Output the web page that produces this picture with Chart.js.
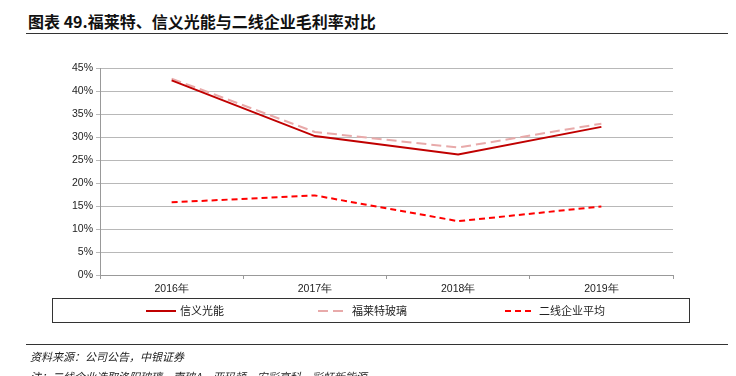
<!DOCTYPE html>
<html><head><meta charset="utf-8">
<script src="https://cdn.jsdelivr.net/npm/chart.js@4/dist/chart.umd.min.js"></script>
<style>
html,body{margin:0;padding:0;background:#fff;width:736px;height:376px;overflow:hidden;position:relative;}
#c{position:absolute;left:0;top:0;}
.t{position:absolute;left:28px;top:9px;font:bold 16px "Noto Sans CJK SC";color:#111;white-space:nowrap;}
.hl{position:absolute;left:26px;width:702px;height:1px;background:#333;}
.src{position:absolute;left:30px;font:italic 11px "Noto Sans CJK SC";color:#222;white-space:nowrap;}
</style></head>
<body>
<div class="t">图表 49.福莱特、信义光能与二线企业毛利率对比</div>
<div class="hl" style="top:33px"></div>
<canvas id="c" width="736" height="376"></canvas>
<div class="hl" style="top:344px"></div>
<div class="src" style="top:348px">资料来源：公司公告，中银证券</div>
<div class="src" style="top:368px">注：二线企业选取洛阳玻璃、南玻A、亚玛顿、安彩高科、彩虹新能源</div>
<script>
const categories = ['2016年','2017年','2018年','2019年'];
const xinyi = [42.3, 30.2, 26.2, 32.2];
const flat = [42.7, 31.1, 27.7, 32.9];
const secondTier = [15.8, 17.3, 11.7, 14.9];
const seriesNames = ['信义光能','福莱特玻璃','二线企业平均'];

const legendBox = {
  id:'legendBox',
  afterDraw(chart){
    const ctx = chart.ctx;
    ctx.save();
    ctx.strokeStyle='#333'; ctx.lineWidth=1; ctx.setLineDash([]);
    ctx.strokeRect(52.5,298.5,637,24);
    const xs=[146,318,505];
    chart.data.datasets.forEach((ds,i)=>{
      const y=311;
      ctx.beginPath();
      ctx.strokeStyle=ds.borderColor; ctx.lineWidth=2;
      ctx.setLineDash(ds.borderDash||[]);
      ctx.moveTo(xs[i],y); ctx.lineTo(xs[i]+30,y); ctx.stroke();
      ctx.setLineDash([]);
      ctx.fillStyle='#222'; ctx.font='11px "Noto Sans CJK SC"';
      ctx.textBaseline='middle'; ctx.textAlign='left';
      ctx.fillText(ds.label, xs[i]+34, y);
    });
    ctx.restore();
  }
};

new Chart(document.getElementById('c'),{
  type:'line',
  data:{labels:categories,datasets:[
    {label:seriesNames[0],data:xinyi,borderColor:'#C00000',borderWidth:2,pointRadius:0,tension:0,fill:false},
    {label:seriesNames[1],data:flat,borderColor:'#E8AAAA',borderWidth:2,borderDash:[10,5],pointRadius:0,tension:0,fill:false},
    {label:seriesNames[2],data:secondTier,borderColor:'#FF0000',borderWidth:2,borderDash:[6,4],pointRadius:0,tension:0,fill:false}
  ]},
  options:{
    responsive:false,animation:false,
    layout:{padding:{left:0,right:63,top:68,bottom:76}},
    plugins:{legend:{display:false},tooltip:{enabled:false}},
    scales:{
      x:{
        offset:true,
        grid:{offset:true,drawOnChartArea:false,tickLength:4,color:'#999'},
        border:{color:'#999'},
        ticks:{color:'#222',font:{family:'Liberation Sans',size:10.5},padding:4,maxRotation:0},
        afterFit(s){s.height=25;}
      },
      y:{
        min:0,max:45,
        grid:{color:'#b8b8b8',tickLength:4},
        border:{color:'#999'},
        ticks:{stepSize:5,color:'#222',font:{family:'Liberation Sans',size:10.5},padding:3,callback:v=>v+'%'},
        afterFit(s){s.width=100;}
      }
    }
  },
  plugins:[legendBox]
});
</script>
</body></html>
